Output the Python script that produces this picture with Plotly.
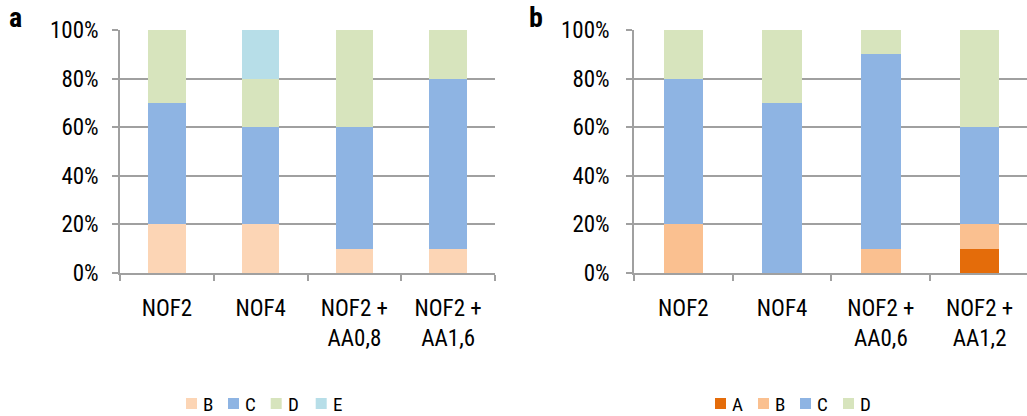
import plotly.graph_objects as go

W, H = 1027, 416

# ---- data: share of each class per treatment (%) ----
categories_a = ["NOF2", "NOF4", "NOF2 +<br>AA0,8", "NOF2 +<br>AA1,6"]
a_B = [20, 20, 10, 10]
a_C = [50, 40, 50, 70]
a_D = [30, 20, 40, 20]
a_E = [0, 20, 0, 0]

categories_b = ["NOF2", "NOF4", "NOF2 +<br>AA0,6", "NOF2 +<br>AA1,2"]
b_A = [0, 0, 0, 10]
b_B = [20, 0, 10, 10]
b_C = [60, 70, 80, 40]
b_D = [20, 30, 10, 40]

y_ticks = [0, 20, 40, 60, 80, 100]
y_tick_labels = ["0%", "20%", "40%", "60%", "80%", "100%"]

FONT = "Roboto Condensed, Liberation Sans, Arial, sans-serif"
GRID = "#A0A0A0"

colors_a = {"B": "#FCD5B5", "C": "#8EB4E3", "D": "#D7E4BD", "E": "#B7DEE8"}
colors_b = {"A": "#E46C0A", "B": "#FAC090", "C": "#8EB4E3", "D": "#D7E4BD"}

series_a = [("B", a_B), ("C", a_C), ("D", a_D), ("E", a_E)]
series_b = [("A", b_A), ("B", b_B), ("C", b_C), ("D", b_D)]

fig = go.Figure()

for name, vals in series_a:
    fig.add_trace(go.Bar(x=categories_a, y=vals, name=name, marker_color=colors_a[name],
                         marker_line_width=0, xaxis="x", yaxis="y", showlegend=False))

for name, vals in series_b:
    fig.add_trace(go.Bar(x=categories_b, y=vals, name=name, marker_color=colors_b[name],
                         marker_line_width=0, xaxis="x2", yaxis="y2", showlegend=False))

y0 = (H - 273) / H
y1 = (H - 30) / H

common_y = dict(range=[0, 100], tickmode="array", tickvals=y_ticks, ticktext=y_tick_labels,
                showgrid=True, gridcolor=GRID, gridwidth=1.5,
                showline=True, linecolor=GRID, linewidth=1.5,
                ticks="outside", ticklen=6, tickcolor=GRID, tickwidth=1.5,
                tickfont=dict(family=FONT, size=23, color="#000000"), zeroline=False,
                domain=[y0, y1], fixedrange=True, automargin=False)
common_x = dict(showline=True, linecolor=GRID, linewidth=1.5, ticks="outside", ticklen=6,
                tickcolor=GRID, tickwidth=1.5, tickson="boundaries", showgrid=False,
                tickfont=dict(family=FONT, size=23, color="#000000"), tickangle=0,
                ticklabelstandoff=14, fixedrange=True, automargin=False)

# ---- legends: small colour squares with labels under each panel ----
shapes = []
annotations = []
legend_rows = [
    (series_a, colors_a, [186, 228, 270.7, 315.7]),
    (series_b, colors_b, [715, 758, 800, 843]),
]
sq_top, sq_bot = 398, 409
for series, colors, lefts in legend_rows:
    for (name, _), left in zip(series, lefts):
        shapes.append(dict(type="rect", xref="paper", yref="paper",
                           x0=left / W, x1=(left + 11) / W,
                           y0=(H - sq_bot) / H, y1=(H - sq_top) / H,
                           fillcolor=colors[name], line=dict(width=0)))
        annotations.append(dict(text=name, xref="paper", yref="paper",
                                x=(left + 15) / W, y=(H - 404) / H,
                                xanchor="left", yanchor="middle", showarrow=False,
                                font=dict(family=FONT, size=19, color="#000000")))

# panel letters
for letter, cx in [("a", 15), ("b", 536)]:
    annotations.append(dict(text=f"<b>{letter}</b>", xref="paper", yref="paper",
                            x=cx / W, y=(H - 18) / H, xanchor="center", yanchor="middle",
                            showarrow=False,
                            font=dict(family=FONT, size=28, color="#000000")))

fig.update_layout(
    width=W, height=H,
    margin=dict(l=0, r=0, t=0, b=0, autoexpand=False),
    paper_bgcolor="white", plot_bgcolor="white",
    barmode="stack", bargap=0.6,
    xaxis=dict(common_x, domain=[120 / W, 495 / W], anchor="y", range=[-0.5, 3.5]),
    yaxis=dict(common_y, anchor="x", ticklabelstandoff=9),
    xaxis2=dict(common_x, domain=[634 / W, 1.0], anchor="y2", range=[-0.5, 3.48]),
    yaxis2=dict(common_y, anchor="x2", ticklabelstandoff=12),
    shapes=shapes,
    annotations=annotations,
)

fig.write_html("out.html")
